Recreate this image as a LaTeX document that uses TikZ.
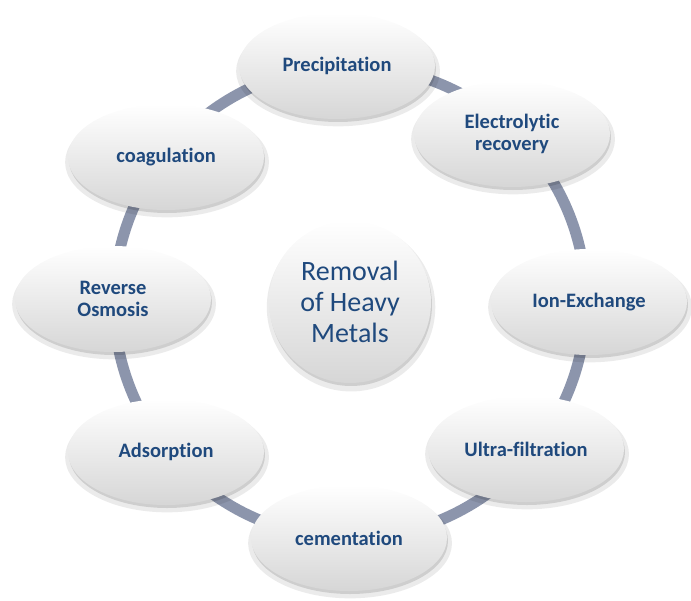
\documentclass[tikz,border=0pt]{standalone}
\usepackage{fontspec}
\setmainfont{Carlito}[Ligatures=NoCommon]
\usetikzlibrary{shapes.geometric,shadows}

\definecolor{ringgray}{RGB}{140,149,172}
\definecolor{labelblue}{RGB}{31,73,125}

\begin{document}
\begin{tikzpicture}[x=1pt,y=-1pt]
	\tikzstyle{soft}=[general shadow={fill=black,opacity=.08,shadow scale=1.04,shadow xshift=1pt,shadow yshift=-5pt},
	                  general shadow={fill=black,opacity=.12,shadow xshift=1pt,shadow yshift=-3pt}]
	\tikzstyle{method}=[ellipse,soft,draw=none,top color=white,bottom color=black!16,
	                    minimum width=196pt,minimum height=106pt,inner sep=0pt,align=center,
	                    text=labelblue,font=\bfseries\fontsize{20.5}{22.5}\selectfont]
	\tikzstyle{hub}=[circle,soft,draw=none,top color=white,bottom color=black!16,
	                 minimum size=162pt,inner sep=0pt,align=center,
	                 text=labelblue,font=\fontsize{28}{31}\selectfont]

	\useasboundingbox (0,0) rectangle (691,600);

	% the ring behind everything
	\coordinate (O) at (350,302);
	\draw[ringgray,line width=11pt] (O) circle[radius=236];

	\node[hub] (H) at (O) {Removal\\of Heavy\\Metals};

	\node[method] (P) at (337,66) {Precipitation};
	\node[method] (E) at (512,134) {Electrolytic\\recovery};
	\node[method] (I) at (589,302) {Ion-Exchange};
	\node[method] (U) at (526,449) {Ultra-filtration};
	\node[method] (C) at (349,538) {cementation};
	\node[method] (A) at (166,452) {Adsorption};
	\node[method] (R) at (113,299) {Reverse\\Osmosis};
	\node[method] (G) at (166,157) {coagulation};
\end{tikzpicture}
\end{document}
